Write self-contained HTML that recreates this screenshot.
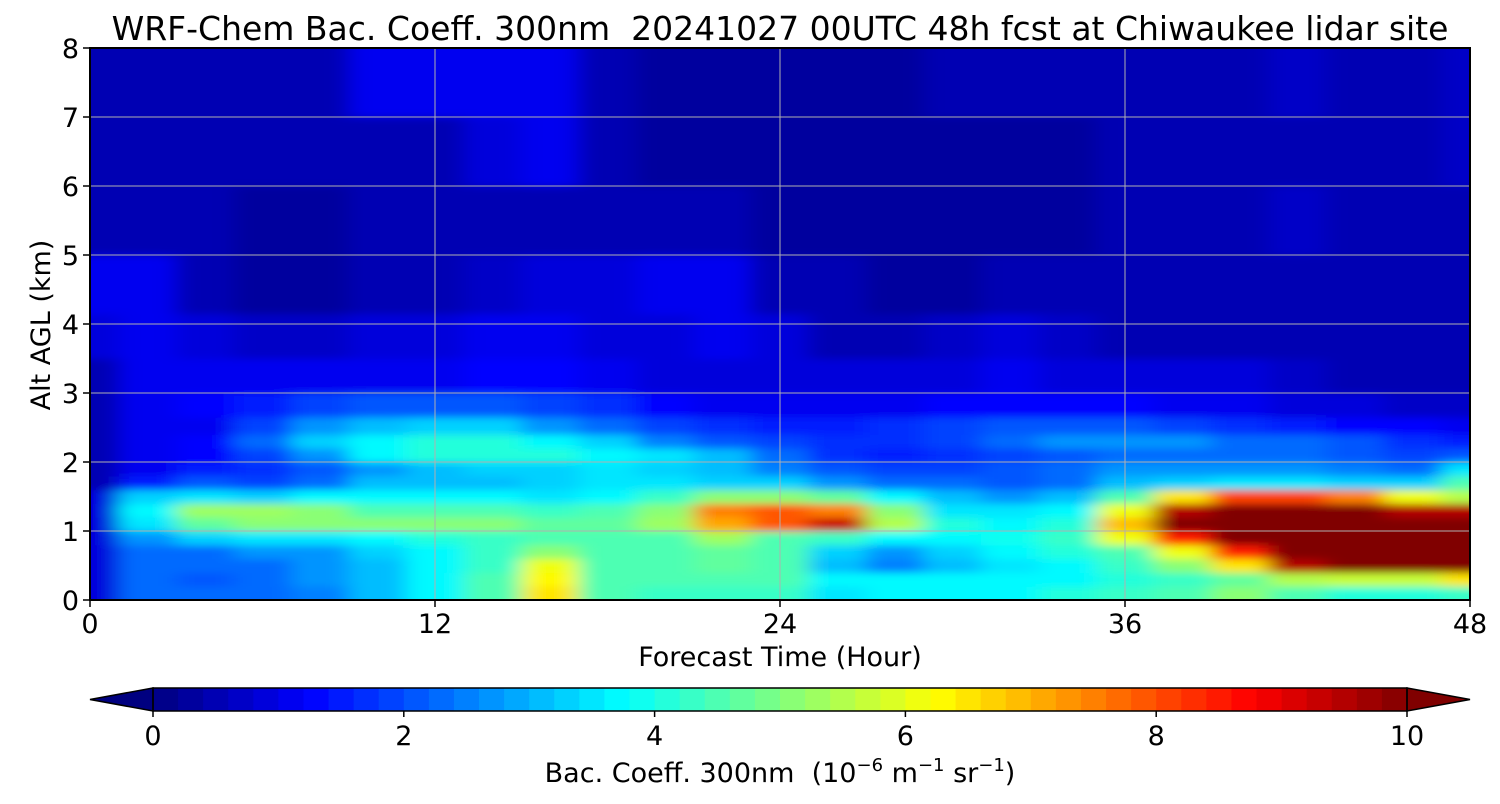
<!DOCTYPE html>
<html><head><meta charset="utf-8"><style>
body{margin:0;background:#fff;font-family:"DejaVu Sans","Liberation Sans",sans-serif}
svg text{font-family:"DejaVu Sans","Liberation Sans",sans-serif;fill:#000;white-space:pre}
</style></head><body>
<svg id="chart" width="1500" height="800" viewBox="0 0 1500 800" xmlns="http://www.w3.org/2000/svg">
<defs>
<clipPath id="pc"><rect x="90" y="48" width="1380" height="552"/></clipPath>
<filter id="bl" x="-10%" y="-10%" width="120%" height="120%"><feGaussianBlur stdDeviation="11 4"/></filter>
</defs>
<text x="780" y="40" font-size="33" text-anchor="middle">WRF-Chem Bac. Coeff. 300nm  20241027 00UTC 48h fcst at Chiwaukee lidar site</text>
<g id="heat" clip-path="url(#pc)"><g id="cells" filter="url(#bl)"></g></g>
<g id="grid"></g>
<rect x="90" y="48" width="1380" height="552" fill="none" stroke="#000" stroke-width="2"/>
<g id="axes"></g>
<text x="780" y="666" font-size="27" text-anchor="middle">Forecast Time (Hour)</text>
<text transform="translate(50,325) rotate(-90)" font-size="27" text-anchor="middle">Alt AGL (km)</text>
<g id="cbar"></g>
<text x="780" y="782" font-size="27" text-anchor="middle">Bac. Coeff. 300nm  (10<tspan dy="-11" font-size="18">−6</tspan><tspan dy="11"> m</tspan><tspan dy="-11" font-size="18">−1</tspan><tspan dy="11"> sr</tspan><tspan dy="-11" font-size="18">−1</tspan><tspan dy="11">)</tspan></text>
</svg>
<script>
const hours=[0,2,4,6,8,10,12,14,16,18,20,22,24,26,28,30,32,34,36,38,40,42,44,46,48];
const alts=[0.1,0.3,0.5,0.7,0.9,1.1,1.3,1.5,1.7,1.9,2.1,2.3,2.5,2.8,3.2,3.8,4.5,5.5,6.5,7.5];
const r01=[0.8,2.2,2.2,2.3,2.5,3.0,3.6,4.5,6.5,4.5,4.3,4.3,4.2,3.5,3.6,3.8,3.8,4.0,4.2,4.6,5.0,4.5,4.0,4.0,4.2];
const r03=[0.8,2.2,2.1,2.3,2.6,3.0,3.6,4.4,6.3,4.5,4.4,4.5,4.5,3.8,3.6,3.8,3.6,3.8,4.0,4.2,4.8,5.5,5.8,5.8,6.5];
const r05=[0.8,2.3,2.2,2.4,2.7,3.0,3.6,4.3,6.0,4.6,4.6,4.8,4.5,3.0,2.5,3.0,3.4,3.8,4.2,5.0,6.5,9.5,10.5,10.5,10];
const r07=[0.8,2.4,2.4,2.6,2.8,3.2,3.7,4.2,5.0,4.6,4.6,4.8,4.4,3.3,2.8,3.3,3.6,4.0,4.6,6.0,8.5,11,11,11,11];
const r09=[0.9,2.8,3.3,3.5,3.4,3.6,4.0,4.3,4.6,4.5,4.6,5.2,4.6,4.2,3.8,3.8,3.9,4.2,6.0,8.5,10.5,11,11,11,11];
const r11=[0.9,3.5,4.8,5.0,5.0,5.0,5.0,5.0,4.8,4.8,5.2,7.0,7.8,9.3,5.5,4.0,3.8,4.0,6.8,10.2,11,11,11,10.5,11];
const r13=[0.9,3.8,5.3,5.2,5.0,4.6,4.5,4.4,4.3,4.5,5.0,7.5,7.8,7.6,5.0,3.5,3.5,3.8,6.0,9.5,10.5,10.5,10.5,9.5,9.5];
const r15=[0.8,3.2,3.5,3.2,3.6,3.6,3.6,3.6,3.5,3.8,4.3,5.0,5.0,4.8,3.6,3.0,2.8,3.0,4.5,6.5,8.0,8.0,7.5,6.0,5.5];
const r17=[0.6,1.5,2.0,1.8,2.4,3.0,3.0,3.0,3.2,3.4,3.4,3.3,3.2,2.8,2.4,2.2,2.0,2.2,3.0,3.2,3.4,3.4,3.3,3.2,4.5];
const r19=[0.5,1.2,1.5,1.6,2.0,2.6,3.0,3.2,3.2,3.5,3.3,3.0,2.5,2.0,1.8,1.8,2.0,2.3,2.6,2.6,2.7,2.6,2.5,2.4,3.5];
const r21=[0.4,1.2,1.4,1.8,2.8,3.6,4.0,4.1,4.0,3.8,3.4,3.0,2.4,1.6,1.5,1.6,1.8,2.0,2.2,2.2,2.2,2.2,2.0,1.8,2.0];
const r23=[0.4,1.1,1.3,2.2,3.3,3.8,4.0,4.0,3.7,3.2,2.5,2.0,1.8,1.6,1.6,1.8,2.2,2.6,2.8,2.6,2.4,2.2,2.0,1.6,1.5];
const r25=[0.4,1.0,1.2,1.8,2.8,3.0,3.2,3.2,2.8,2.3,1.8,1.6,1.5,1.5,1.6,1.8,2.0,2.0,2.0,1.8,1.6,1.5,1.4,1.3,1.2];
const r28=[0.5,1.1,1.3,1.5,1.8,2.0,2.0,2.0,1.8,1.6,1.4,1.2,1.1,1.1,1.2,1.3,1.4,1.4,1.3,1.2,1.0,0.9,0.8,0.7,0.7];
const r32=[0.6,1.2,1.2,1.2,1.2,1.2,1.2,1.4,1.4,1.1,0.9,0.9,0.9,0.8,0.8,0.9,1.0,0.9,0.8,0.8,0.8,0.7,0.6,0.5,0.5];
const r38=[0.9,1.2,0.9,0.7,0.7,0.8,0.9,1.0,1.0,0.9,0.9,1.0,0.8,0.6,0.6,0.7,0.8,0.7,0.6,0.6,0.6,0.5,0.4,0.4,0.5];
const r45=[1.0,1.0,0.5,0.3,0.3,0.5,0.6,0.7,0.8,0.9,1.0,1.1,0.6,0.5,0.3,0.3,0.4,0.5,0.5,0.5,0.5,0.6,0.4,0.4,0.5];
const r55=[0.6,0.6,0.4,0.3,0.3,0.4,0.5,0.6,0.6,0.6,0.5,0.4,0.3,0.3,0.2,0.2,0.3,0.3,0.4,0.5,0.6,0.7,0.5,0.5,0.6];
const r65=[0.5,0.5,0.4,0.4,0.5,0.6,0.6,0.8,1.0,0.6,0.3,0.2,0.2,0.2,0.2,0.2,0.3,0.3,0.5,0.6,0.6,0.6,0.6,0.6,0.7];
const r75=[0.4,0.5,0.6,0.5,0.6,1.1,1.0,1.1,1.2,0.6,0.3,0.2,0.2,0.2,0.3,0.4,0.5,0.5,0.5,0.6,0.6,0.7,0.6,0.6,0.7];
const values=[r01,r03,r05,r07,r09,r11,r13,r15,r17,r19,r21,r23,r25,r28,r32,r38,r45,r55,r65,r75];
const xTicks=[0,12,24,36,48];
const yTicks=[0,1,2,3,4,5,6,7,8];
const cTicks=[0,2,4,6,8,10];

const NS="http://www.w3.org/2000/svg";
const X=h=>90+h*1380/48, Y=a=>600-a*69;
const cl=v=>Math.max(0,Math.min(1,v));
function jet(v){let t=Math.max(0,Math.min(10,v));t=(Math.floor(t/0.2)*0.2+0.1)/10;if(v>=10)t=1;if(v<0)t=0;
 const r=cl(1.5-Math.abs(4*t-3)),g=cl(1.5-Math.abs(4*t-2)),b=cl(1.5-Math.abs(4*t-1));
 return `rgb(${Math.round(r*255)},${Math.round(g*255)},${Math.round(b*255)})`;}
function mk(tag,at,parent){const e=document.createElementNS(NS,tag);for(const k in at)e.setAttribute(k,at[k]);parent.appendChild(e);return e;}
const cells=document.getElementById('cells');
values.forEach((row,i)=>{
 const lo=i===0?-1:(alts[i-1]+alts[i])/2, hi=i===alts.length-1?9:(alts[i]+alts[i+1])/2;
 row.forEach((v,j)=>{
  const l=j===0?-2:(hours[j-1]+hours[j])/2, r=j===hours.length-1?50:(hours[j]+hours[j+1])/2;
  const c=mk('rect',{x:X(l),y:Y(hi),width:X(r)-X(l)+0.5,height:Y(lo)-Y(hi)+0.5,fill:jet(v)},cells);
  
  
 });
});
const grid=document.getElementById('grid'), axes=document.getElementById('axes');
xTicks.forEach(h=>{
 const l=mk('line',{x1:X(h),x2:X(h),y1:48,y2:600,stroke:'#b0b0b0','stroke-width':1},grid);
 
 
 mk('line',{x1:X(h),x2:X(h),y1:600,y2:607,stroke:'#000','stroke-width':1.5},axes);
 const t=mk('text',{x:X(h),y:633,'font-size':27,'text-anchor':'middle'},axes);t.textContent=h;
 
 
});
yTicks.forEach(a=>{
 const l=mk('line',{x1:90,x2:1470,y1:Y(a),y2:Y(a),stroke:'#b0b0b0','stroke-width':1},grid);
 
 
 mk('line',{x1:83,x2:90,y1:Y(a),y2:Y(a),stroke:'#000','stroke-width':1.5},axes);
 const t=mk('text',{x:79,y:Y(a)+10,'font-size':27,'text-anchor':'end'},axes);t.textContent=a;
 
 
});
const cb=document.getElementById('cbar');
const C=v=>153+v*(1407-153)/10;
for(let k=0;k<50;k++){const v=k*0.2;
 const s=mk('rect',{x:C(v),y:688,width:C(0.2)-C(0)+0.6,height:23,fill:jet(v+0.1)},cb);
 
 }
mk('polygon',{points:'153,688 90,699.5 153,711',fill:'rgb(0,0,128)',stroke:'#000','stroke-width':1.5},cb);
mk('polygon',{points:'1407,688 1470,699.5 1407,711',fill:'rgb(128,0,0)',stroke:'#000','stroke-width':1.5},cb);
mk('rect',{x:153,y:688,width:1254,height:23,fill:'none',stroke:'#000','stroke-width':1.5},cb);
cTicks.forEach(v=>{
 mk('line',{x1:C(v),x2:C(v),y1:711,y2:717,stroke:'#000','stroke-width':1.5},cb);
 const t=mk('text',{x:C(v),y:745,'font-size':27,'text-anchor':'middle'},cb);t.textContent=v;
 
 
});
</script>
</body></html>
